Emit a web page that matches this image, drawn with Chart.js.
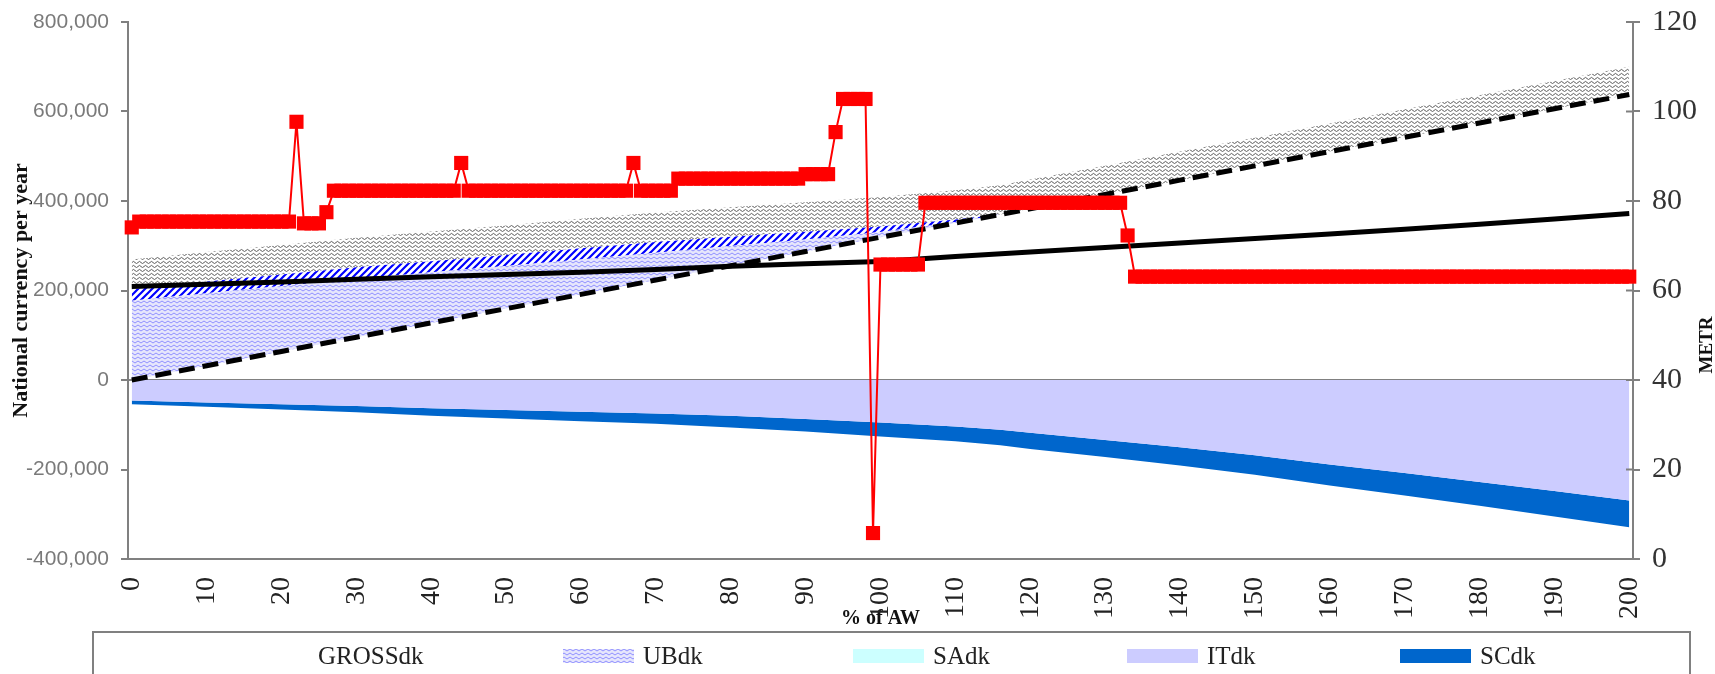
<!DOCTYPE html>
<html>
<head>
  <meta charset="UTF-8">
  <title>METR Denmark</title>
  <style>
    body {
      margin: 0;
      padding: 0;
      overflow: hidden;
      background: #fff;
    }

    #chart {
      display: block;
    }
  </style>
  <script src="https://cdn.jsdelivr.net/npm/chart.js"></script>
</head>
<body>
  <canvas id="chart" width="1715" height="674"></canvas>

  <script>
    // earnings in % of AW (one category per percent)
    var pctAW = Array.from({ length: 201 }, function (_, i) { return i; });
    var xTicks = [0, 10, 20, 30, 40, 50, 60, 70, 80, 90, 100, 110, 120, 130, 140, 150, 160, 170, 180, 190, 200];

    // points used for the stacked areas
    var areaPct = [0, 10, 20, 30, 40, 50, 60, 70, 80, 90, 100, 110, 116, 120, 130, 140, 150, 160, 170, 180, 190, 200];
    var grossDk = [0, 31900, 63800, 95700, 127600, 159500, 191400, 223300, 255200, 287100, 319000, 350900, 370000, 382800, 414700, 446600, 478500, 510400, 542300, 574200, 606100, 638000];
    var ubDk = [177000, 162000, 146000, 130000, 113000, 95000, 78000, 61000, 44000, 27000, 12000, 2000, 0, 0, 0, 0, 0, 0, 0, 0, 0, 0];
    var saDk = [0, 0, 0, 0, 0, 0, 0, 0, 0, 0, 0, 0, 0, 0, 0, 0, 0, 0, 0, 0, 0, 0];
    var hatchDk = [26000, 26000, 26000, 26000, 25000, 25000, 25000, 24000, 21000, 17000, 12000, 6000, 0, 0, 0, 0, 0, 0, 0, 0, 0, 0];
    var waveDk = [66000, 66000, 66000, 66000, 66000, 66000, 66000, 66000, 66000, 66000, 66000, 65000, 65000, 65000, 64000, 64000, 63000, 63000, 63000, 62000, 62000, 62000];
    var itDk = [-46000, -50000, -54000, -58000, -63000, -67000, -71000, -75000, -80000, -87000, -95000, -104000, -111000, -118000, -134000, -150000, -168000, -189000, -208000, -228000, -248000, -269000];
    var scDk = [-8000, -10000, -12000, -14000, -17000, -19000, -21000, -23000, -26000, -28000, -31000, -33000, -35000, -36000, -38000, -41000, -44000, -47000, -50000, -53000, -57000, -60000];

    // net income line
    var netPct = [0, 10, 20, 30, 40, 50, 60, 70, 80, 90, 100, 110, 120, 130, 140, 150, 160, 170, 180, 190, 200];
    var netDk = [209000, 214000, 219000, 225000, 231000, 236000, 241000, 247000, 254000, 260000, 265000, 276000, 286000, 296000, 306000, 316000, 326000, 337000, 348000, 360000, 372000];

    // METR, one value per % of AW
    var metr = [
      74.1, 75.4, 75.4, 75.4, 75.4, 75.4, 75.4, 75.4, 75.4, 75.4,
      75.4, 75.4, 75.4, 75.4, 75.4, 75.4, 75.4, 75.4, 75.4, 75.4,
      75.4, 75.4, 97.7, 75.0, 75.0, 75.0, 77.5, 82.3, 82.3, 82.3,
      82.3, 82.3, 82.3, 82.3, 82.3, 82.3, 82.3, 82.3, 82.3, 82.3,
      82.3, 82.3, 82.3, 82.3, 88.5, 82.3, 82.3, 82.3, 82.3, 82.3,
      82.3, 82.3, 82.3, 82.3, 82.3, 82.3, 82.3, 82.3, 82.3, 82.3,
      82.3, 82.3, 82.3, 82.3, 82.3, 82.3, 82.3, 88.5, 82.3, 82.3,
      82.3, 82.3, 82.3, 85.0, 85.0, 85.0, 85.0, 85.0, 85.0, 85.0,
      85.0, 85.0, 85.0, 85.0, 85.0, 85.0, 85.0, 85.0, 85.0, 85.0,
      86.0, 86.0, 86.0, 86.0, 95.4, 102.8, 102.8, 102.8, 102.8, 5.8,
      65.8, 65.8, 65.8, 65.8, 65.8, 65.8, 79.6, 79.6, 79.6, 79.6,
      79.6, 79.6, 79.6, 79.6, 79.6, 79.6, 79.6, 79.6, 79.6, 79.6,
      79.6, 79.6, 79.6, 79.6, 79.6, 79.6, 79.6, 79.6, 79.6, 79.6,
      79.6, 79.6, 79.6, 72.3, 63.1, 63.1, 63.1, 63.1, 63.1, 63.1,
      63.1, 63.1, 63.1, 63.1, 63.1, 63.1, 63.1, 63.1, 63.1, 63.1,
      63.1, 63.1, 63.1, 63.1, 63.1, 63.1, 63.1, 63.1, 63.1, 63.1,
      63.1, 63.1, 63.1, 63.1, 63.1, 63.1, 63.1, 63.1, 63.1, 63.1,
      63.1, 63.1, 63.1, 63.1, 63.1, 63.1, 63.1, 63.1, 63.1, 63.1,
      63.1, 63.1, 63.1, 63.1, 63.1, 63.1, 63.1, 63.1, 63.1, 63.1,
      63.1, 63.1, 63.1, 63.1, 63.1, 63.1, 63.1, 63.1, 63.1, 63.1,
      63.1
    ];

    var legendNames = ['GROSSdk', 'UBdk', 'SAdk', 'ITdk', 'SCdk'];

    var SANS = "'Liberation Sans', Arial, sans-serif";
    var SERIF = "'Liberation Serif', 'Times New Roman', serif";

    function points(xs, ys) {
      return xs.map(function (x, i) { return { x: x, y: ys[i] }; });
    }

    function makePattern(w, h, paint) {
      var c = document.createElement('canvas');
      c.width = w;
      c.height = h;
      var g = c.getContext('2d');
      paint(g);
      return g.createPattern(c, 'repeat');
    }

    var ubFill = makePattern(6, 4, function (g) {
      g.fillStyle = '#e6e6fc';
      g.fillRect(0, 0, 6, 4);
      g.strokeStyle = '#8f8fff';
      g.lineWidth = 1;
      g.beginPath();
      g.moveTo(0, 1);
      g.lineTo(3, 3);
      g.lineTo(6, 1);
      g.stroke();
    });

    var hatchFill = makePattern(7, 7, function (g) {
      g.fillStyle = '#ffffff';
      g.fillRect(0, 0, 7, 7);
      g.strokeStyle = '#0000ff';
      g.lineWidth = 2.2;
      g.beginPath();
      g.moveTo(0, 7); g.lineTo(7, 0);
      g.moveTo(-1, 1); g.lineTo(1, -1);
      g.moveTo(6, 8); g.lineTo(8, 6);
      g.stroke();
    });

    var waveFill = makePattern(6, 4, function (g) {
      g.fillStyle = '#ffffff';
      g.fillRect(0, 0, 6, 4);
      g.strokeStyle = '#333333';
      g.lineWidth = 0.8;
      g.beginPath();
      g.moveTo(0, 2.5);
      g.quadraticCurveTo(1.5, 0.3, 3, 2.5);
      g.quadraticCurveTo(4.5, 4.7, 6, 2.5);
      g.stroke();
    });

    function area(label, ys, fill, color) {
      return {
        label: label,
        data: points(areaPct, ys),
        stack: 'areas',
        order: 2,
        fill: fill,
        backgroundColor: color,
        borderColor: 'rgba(0,0,0,0)',
        borderWidth: 0,
        pointRadius: 0
      };
    }

    var grossSet = area('GROSSdk', grossDk, false, 'rgba(0,0,0,0)');
    grossSet.borderColor = '#000000';
    grossSet.borderWidth = 5;
    grossSet.borderDash = [16, 8];

    var datasets = [
      grossSet,
      area('UBdk', ubDk, '-1', ubFill),
      area('SAdk', saDk, '-1', '#ccffff'),
      area('HBdk', hatchDk, '-1', hatchFill),
      area('FBdk', waveDk, '-1', waveFill),
      area('ITdk', itDk, 'origin', '#ccccff'),
      area('SCdk', scDk, '-1', '#0066cc'),
      {
        label: 'NETdk',
        data: points(netPct, netDk),
        stack: 'net',
        order: 1,
        fill: false,
        borderColor: '#000000',
        borderWidth: 5,
        pointRadius: 0
      },
      {
        label: 'METRdk',
        data: points(pctAW, metr),
        yAxisID: 'y2',
        order: 0,
        fill: false,
        clip: false,
        borderColor: '#ff0000',
        borderWidth: 2,
        pointStyle: 'rect',
        pointRadius: 10,
        pointBackgroundColor: '#ff0000',
        pointBorderWidth: 0
      }
    ];

    // legend in a framed box, one column per entry, and the METR axis title
    var boxLegend = {
      id: 'boxLegend',
      afterDraw: function (chart) {
        var ctx = chart.ctx;
        var cols = [238, 563, 853, 1127, 1400];
        ctx.save();
        ctx.fillStyle = '#ffffff';
        ctx.fillRect(93, 632, 1597, 50);
        ctx.strokeStyle = '#808080';
        ctx.lineWidth = 2;
        ctx.strokeRect(93, 632, 1597, 60);
        ctx.font = '25px ' + SERIF;
        ctx.textBaseline = 'middle';
        legendNames.forEach(function (name, i) {
          var ds = chart.data.datasets.filter(function (d) { return d.label === name; })[0];
          if (i > 0) {
            ctx.fillStyle = ds.backgroundColor;
            ctx.fillRect(cols[i], 649, 71, 14);
          }
          ctx.fillStyle = '#222222';
          ctx.fillText(name, cols[i] + 80, 657);
        });

        ctx.translate(1707, 345);
        ctx.rotate(-Math.PI / 2);
        ctx.font = 'bold 19px ' + SERIF;
        ctx.textAlign = 'center';
        ctx.fillStyle = '#111111';
        ctx.fillText('METR', 0, 0);
        ctx.restore();
      }
    };

    // right-axis tick marks cross the axis line
    var crossTicks = {
      id: 'crossTicks',
      afterDatasetsDraw: function (chart) {
        var s = chart.scales.y2;
        var ctx = chart.ctx;
        ctx.save();
        ctx.strokeStyle = '#808080';
        ctx.lineWidth = 2;
        s.ticks.forEach(function (t) {
          var y = s.getPixelForValue(t.value);
          ctx.beginPath();
          ctx.moveTo(s.left - 7, y);
          ctx.lineTo(s.left, y);
          ctx.stroke();
        });
        ctx.restore();
      }
    };

    var ctx = document.getElementById('chart').getContext('2d');
    var chart = new Chart(ctx, {
      type: 'line',
      data: { datasets: datasets },
      options: {
        responsive: false,
        animation: false,
        layout: { padding: { top: 22, left: 0, right: 0, bottom: 0 } },
        plugins: {
          legend: { display: false },
          tooltip: { enabled: false }
        },
        scales: {
          x: {
            type: 'linear',
            min: -0.5,
            max: 200.5,
            afterBuildTicks: function (scale) {
              scale.ticks = xTicks.map(function (v) { return { value: v }; });
            },
            afterFit: function (scale) { scale.height = 115; },
            grid: { display: false },
            border: { display: true, color: '#808080', width: 2 },
            ticks: {
              autoSkip: false,
              minRotation: 90,
              maxRotation: 90,
              padding: 10,
              color: '#222222',
              font: { family: SERIF, size: 28 }
            },
            title: {
              display: true,
              text: '% of AW',
              color: '#111111',
              font: { family: SERIF, size: 20, weight: 'bold' },
              padding: { top: 0, bottom: 43 }
            }
          },
          y: {
            position: 'left',
            stacked: true,
            min: -400000,
            max: 800000,
            afterFit: function (scale) { scale.width = 128; },
            grid: {
              drawOnChartArea: true,
              color: function (c) { return c.tick && c.tick.value === 0 ? '#808080' : 'rgba(0,0,0,0)'; },
              tickColor: '#808080',
              lineWidth: 2,
              tickLength: 7
            },
            border: { display: true, color: '#808080', width: 2 },
            ticks: {
              stepSize: 200000,
              padding: 12,
              color: '#7a7a7a',
              font: { family: SANS, size: 21, lineHeight: 0.6 },
              callback: function (v) { return v.toLocaleString('en-US'); }
            },
            title: {
              display: true,
              text: 'National currency per year',
              color: '#111111',
              font: { family: SERIF, size: 22, weight: 'bold' },
              padding: { top: 8, bottom: 0 }
            }
          },
          y2: {
            position: 'right',
            min: 0,
            max: 120,
            afterFit: function (scale) { scale.width = 82; },
            grid: { drawOnChartArea: false, color: '#808080', lineWidth: 2, tickLength: 7 },
            border: { display: true, color: '#808080', width: 2 },
            ticks: {
              stepSize: 20,
              padding: 12,
              color: '#333333',
              font: { family: SERIF, size: 30, lineHeight: 0.6 }
            }
          }
        }
      },
      plugins: [boxLegend, crossTicks]
    });
  </script>
</body>
</html>
